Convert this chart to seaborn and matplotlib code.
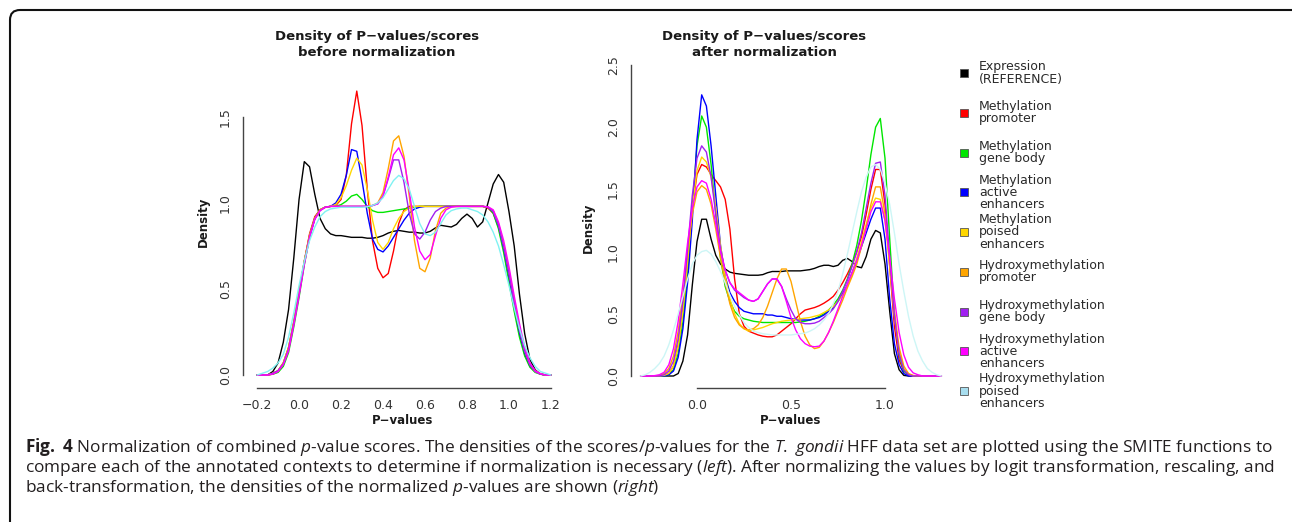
import matplotlib
matplotlib.use("Agg")
import matplotlib.pyplot as plt
from matplotlib.patches import FancyBboxPatch, Rectangle
import pandas as pd
import seaborn as sns

# ---- data ----
x_before = [-0.2, -0.175, -0.15, -0.125, -0.1, -0.075, -0.05, -0.025,
            0.0, 0.025, 0.05, 0.075, 0.1, 0.125, 0.15, 0.175,
            0.2, 0.225, 0.25, 0.275, 0.3, 0.325, 0.35, 0.375,
            0.4, 0.425, 0.45, 0.475, 0.5, 0.525, 0.55, 0.575,
            0.6, 0.625, 0.65, 0.675, 0.7, 0.725, 0.75, 0.775,
            0.8, 0.825, 0.85, 0.875, 0.9, 0.925, 0.95, 0.975,
            1.0, 1.025, 1.05, 1.075, 1.1, 1.125, 1.15, 1.175, 1.2]

x_after = [-0.3, -0.275, -0.25, -0.225, -0.2, -0.175, -0.15, -0.125,
           -0.1, -0.075, -0.05, -0.025, 0.0, 0.025, 0.05, 0.075,
           0.1, 0.125, 0.15, 0.175, 0.2, 0.225, 0.25, 0.275,
           0.3, 0.325, 0.35, 0.375, 0.4, 0.425, 0.45, 0.475,
           0.5, 0.525, 0.55, 0.575, 0.6, 0.625, 0.65, 0.675,
           0.7, 0.725, 0.75, 0.775, 0.8, 0.825, 0.85, 0.875,
           0.9, 0.925, 0.95, 0.975, 1.0, 1.025, 1.05, 1.075,
           1.1, 1.125, 1.15, 1.175, 1.2, 1.225, 1.25, 1.275,
           1.3]

before_expr = [0, 0, 0, 0.02, 0.07, 0.19, 0.38, 0.68,
               1.02, 1.24, 1.21, 1.05, 0.91, 0.85, 0.82, 0.81,
               0.81, 0.805, 0.8, 0.8, 0.8, 0.795, 0.795, 0.8,
               0.81, 0.825, 0.835, 0.84, 0.835, 0.83, 0.83, 0.825,
               0.825, 0.835, 0.855, 0.87, 0.865, 0.86, 0.875, 0.91,
               0.935, 0.91, 0.86, 0.89, 1.0, 1.11, 1.165, 1.12,
               0.95, 0.75, 0.47, 0.24, 0.09, 0.03, 0.005, 0,
               0]
before_meth_prom = [0, 0, 0, 0.005, 0.02, 0.06, 0.15, 0.3,
                    0.47, 0.66, 0.82, 0.92, 0.96, 0.975, 0.98, 0.985,
                    1.02, 1.16, 1.46, 1.65, 1.45, 1.08, 0.78, 0.62,
                    0.565, 0.59, 0.72, 0.88, 0.96, 0.98, 0.98, 0.98,
                    0.98, 0.98, 0.98, 0.98, 0.98, 0.98, 0.98, 0.98,
                    0.98, 0.98, 0.98, 0.98, 0.97, 0.94, 0.86, 0.73,
                    0.57, 0.4, 0.24, 0.12, 0.05, 0.02, 0.005, 0,
                    0]
before_meth_body = [0, 0, 0, 0.005, 0.015, 0.05, 0.13, 0.28,
                    0.45, 0.64, 0.8, 0.91, 0.96, 0.975, 0.98, 0.98,
                    0.99, 1.01, 1.04, 1.05, 1.02, 0.98, 0.955, 0.945,
                    0.945, 0.95, 0.955, 0.96, 0.965, 0.97, 0.975, 0.98,
                    0.98, 0.98, 0.98, 0.98, 0.98, 0.98, 0.98, 0.98,
                    0.98, 0.98, 0.98, 0.98, 0.975, 0.94, 0.85, 0.71,
                    0.54, 0.37, 0.22, 0.11, 0.045, 0.015, 0.005, 0,
                    0]
before_meth_active = [0, 0, 0, 0.01, 0.025, 0.07, 0.16, 0.31,
                      0.48, 0.66, 0.81, 0.91, 0.96, 0.975, 0.98, 1.0,
                      1.05, 1.16, 1.31, 1.3, 1.13, 0.94, 0.79, 0.73,
                      0.715, 0.75, 0.8, 0.85, 0.9, 0.94, 0.965, 0.975,
                      0.98, 0.98, 0.98, 0.98, 0.98, 0.98, 0.98, 0.98,
                      0.98, 0.98, 0.98, 0.98, 0.975, 0.95, 0.87, 0.74,
                      0.58, 0.41, 0.25, 0.13, 0.055, 0.02, 0.005, 0,
                      0]
before_meth_poised = [0, 0, 0, 0.01, 0.025, 0.07, 0.16, 0.31,
                      0.48, 0.66, 0.81, 0.91, 0.96, 0.975, 0.98, 0.99,
                      1.03, 1.1, 1.19, 1.26, 1.22, 1.08, 0.9, 0.77,
                      0.73, 0.77, 0.85, 0.91, 0.95, 0.97, 0.98, 0.98,
                      0.98, 0.98, 0.98, 0.98, 0.98, 0.98, 0.98, 0.98,
                      0.98, 0.98, 0.98, 0.98, 0.975, 0.955, 0.88, 0.76,
                      0.6, 0.43, 0.27, 0.14, 0.06, 0.02, 0.005, 0,
                      0]
before_hmeth_prom = [0, 0, 0, 0.01, 0.025, 0.07, 0.16, 0.31,
                     0.48, 0.66, 0.81, 0.91, 0.96, 0.975, 0.98, 0.98,
                     0.98, 0.98, 0.98, 0.98, 0.98, 0.98, 0.985, 1.0,
                     1.06, 1.2, 1.36, 1.39, 1.27, 1.04, 0.78, 0.62,
                     0.6, 0.68, 0.84, 0.94, 0.97, 0.98, 0.98, 0.98,
                     0.98, 0.98, 0.98, 0.98, 0.975, 0.955, 0.88, 0.76,
                     0.61, 0.44, 0.28, 0.15, 0.065, 0.025, 0.008, 0,
                     0]
before_hmeth_body = [0, 0, 0, 0.01, 0.025, 0.065, 0.15, 0.3,
                     0.47, 0.65, 0.8, 0.905, 0.955, 0.975, 0.98, 0.98,
                     0.98, 0.98, 0.98, 0.98, 0.98, 0.98, 0.985, 0.995,
                     1.04, 1.14, 1.25, 1.25, 1.12, 0.94, 0.82, 0.79,
                     0.83, 0.9, 0.95, 0.97, 0.98, 0.98, 0.98, 0.98,
                     0.98, 0.98, 0.98, 0.98, 0.975, 0.95, 0.87, 0.745,
                     0.59, 0.42, 0.26, 0.14, 0.06, 0.02, 0.005, 0,
                     0]
before_hmeth_active = [0, 0, 0, 0.005, 0.02, 0.06, 0.14, 0.29,
                       0.46, 0.64, 0.8, 0.905, 0.955, 0.975, 0.98, 0.98,
                       0.98, 0.98, 0.98, 0.98, 0.98, 0.98, 0.985, 0.995,
                       1.04, 1.15, 1.28, 1.32, 1.25, 1.07, 0.86, 0.72,
                       0.67, 0.7, 0.81, 0.91, 0.96, 0.975, 0.98, 0.98,
                       0.98, 0.98, 0.98, 0.98, 0.978, 0.96, 0.89, 0.78,
                       0.63, 0.46, 0.3, 0.16, 0.07, 0.025, 0.008, 0,
                       0]
before_hmeth_poised = [0.0, 0.01, 0.02, 0.04, 0.07, 0.12, 0.22, 0.36,
                       0.52, 0.66, 0.78, 0.86, 0.92, 0.95, 0.965, 0.97,
                       0.975, 0.975, 0.975, 0.975, 0.975, 0.978, 0.985, 1.0,
                       1.03, 1.08, 1.13, 1.16, 1.14, 1.08, 0.98, 0.88,
                       0.82, 0.81, 0.83, 0.88, 0.93, 0.955, 0.965, 0.97,
                       0.97, 0.96, 0.95, 0.93, 0.89, 0.83, 0.75, 0.64,
                       0.52, 0.39, 0.27, 0.17, 0.1, 0.05, 0.02, 0.01,
                       0.0]

after_expr = [0, 0, 0, 0, 0, 0, 0, 0,
              0.02, 0.12, 0.33, 0.73, 1.08, 1.26, 1.26, 1.1,
              0.97, 0.9, 0.86, 0.835, 0.825, 0.82, 0.815, 0.81,
              0.81, 0.81, 0.815, 0.83, 0.84, 0.84, 0.84, 0.845,
              0.845, 0.845, 0.845, 0.85, 0.855, 0.865, 0.88, 0.89,
              0.89, 0.88, 0.89, 0.93, 0.945, 0.92, 0.88, 0.87,
              0.96, 1.1, 1.17, 1.15, 0.9, 0.52, 0.18, 0.05,
              0.005, 0, 0, 0, 0, 0, 0, 0,
              0]
after_meth_prom = [0, 0, 0, 0, 0, 0.005, 0.02, 0.08,
                   0.25, 0.53, 0.93, 1.35, 1.62, 1.7, 1.68, 1.62,
                   1.57, 1.52, 1.42, 1.18, 0.78, 0.5, 0.4, 0.36,
                   0.345, 0.33, 0.32, 0.315, 0.315, 0.33, 0.36, 0.39,
                   0.42, 0.46, 0.5, 0.53, 0.54, 0.55, 0.565, 0.585,
                   0.61, 0.64, 0.69, 0.75, 0.82, 0.9, 1.0, 1.12,
                   1.3, 1.5, 1.66, 1.66, 1.38, 0.88, 0.4, 0.13,
                   0.04, 0.01, 0, 0, 0, 0, 0, 0,
                   0]
after_meth_body = [0, 0, 0, 0, 0, 0, 0.01, 0.05,
                   0.18, 0.43, 0.82, 1.35, 1.85, 2.09, 2.0, 1.7,
                   1.3, 0.95, 0.72, 0.6, 0.52, 0.48, 0.46, 0.45,
                   0.44, 0.435, 0.43, 0.43, 0.43, 0.43, 0.43, 0.43,
                   0.43, 0.43, 0.435, 0.44, 0.45, 0.46, 0.48, 0.5,
                   0.53, 0.57, 0.62, 0.69, 0.78, 0.9, 1.05, 1.25,
                   1.5, 1.78, 2.0, 2.07, 1.75, 1.1, 0.5, 0.17,
                   0.04, 0.01, 0, 0, 0, 0, 0, 0,
                   0]
after_meth_active = [0, 0, 0, 0, 0, 0, 0.01, 0.04,
                     0.15, 0.38, 0.75, 1.25, 1.9, 2.26, 2.17, 1.85,
                     1.45, 1.05, 0.8, 0.67, 0.6, 0.55, 0.52, 0.51,
                     0.5, 0.5, 0.5, 0.49, 0.49, 0.48, 0.48, 0.47,
                     0.46, 0.455, 0.45, 0.45, 0.45, 0.46, 0.47, 0.49,
                     0.52, 0.55, 0.6, 0.66, 0.73, 0.83, 0.93, 1.04,
                     1.15, 1.26, 1.35, 1.35, 1.1, 0.62, 0.26, 0.09,
                     0.02, 0, 0, 0, 0, 0, 0, 0,
                     0]
after_meth_poised = [0, 0, 0, 0, 0, 0.005, 0.02, 0.08,
                     0.24, 0.52, 0.92, 1.35, 1.65, 1.76, 1.72, 1.6,
                     1.35, 1.05, 0.8, 0.62, 0.5, 0.42, 0.38, 0.36,
                     0.37, 0.38, 0.39, 0.405, 0.42, 0.43, 0.44, 0.445,
                     0.45, 0.455, 0.46, 0.465, 0.47, 0.48, 0.49, 0.51,
                     0.53, 0.56, 0.6, 0.65, 0.72, 0.82, 0.95, 1.08,
                     1.22, 1.35, 1.43, 1.42, 1.25, 0.88, 0.48, 0.2,
                     0.06, 0.015, 0, 0, 0, 0, 0, 0,
                     0]
after_hmeth_prom = [0, 0, 0, 0, 0.005, 0.02, 0.06, 0.16,
                    0.36, 0.65, 1.0, 1.3, 1.48, 1.53, 1.5, 1.38,
                    1.18, 0.95, 0.75, 0.58, 0.47, 0.41, 0.38, 0.37,
                    0.38, 0.41, 0.47, 0.56, 0.67, 0.78, 0.86, 0.86,
                    0.76, 0.6, 0.44, 0.32, 0.25, 0.22, 0.23, 0.28,
                    0.35, 0.43, 0.52, 0.61, 0.71, 0.8, 0.9, 1.04,
                    1.2, 1.38, 1.52, 1.52, 1.3, 0.92, 0.52, 0.23,
                    0.08, 0.02, 0.005, 0, 0, 0, 0, 0,
                    0]
after_hmeth_body = [0, 0, 0, 0, 0, 0.01, 0.04, 0.12,
                    0.3, 0.6, 1.02, 1.45, 1.75, 1.85, 1.8, 1.6,
                    1.3, 1.02, 0.85, 0.75, 0.69, 0.66, 0.63, 0.61,
                    0.6, 0.62, 0.68, 0.74, 0.78, 0.78, 0.72, 0.62,
                    0.53, 0.46, 0.43, 0.42, 0.42, 0.425, 0.44, 0.47,
                    0.5, 0.54, 0.6, 0.68, 0.77, 0.88, 1.0, 1.15,
                    1.35, 1.55, 1.71, 1.72, 1.45, 0.95, 0.48, 0.18,
                    0.05, 0.01, 0, 0, 0, 0, 0, 0,
                    0]
after_hmeth_active = [0, 0, 0, 0.003, 0.01, 0.03, 0.09, 0.22,
                      0.44, 0.74, 1.07, 1.35, 1.52, 1.57, 1.55, 1.42,
                      1.22, 1.0, 0.85, 0.75, 0.7, 0.67, 0.64, 0.61,
                      0.6, 0.62, 0.68, 0.74, 0.78, 0.78, 0.72, 0.6,
                      0.47, 0.37, 0.3, 0.26, 0.24, 0.235, 0.24, 0.28,
                      0.35, 0.44, 0.54, 0.64, 0.74, 0.83, 0.93, 1.05,
                      1.18, 1.32, 1.4, 1.4, 1.25, 0.95, 0.62, 0.35,
                      0.17, 0.07, 0.025, 0.01, 0, 0, 0, 0,
                      0]
after_hmeth_poised = [0.0, 0.01, 0.03, 0.06, 0.1, 0.16, 0.25, 0.37,
                      0.5, 0.64, 0.78, 0.9, 0.97, 1.0, 1.01, 0.98,
                      0.92, 0.84, 0.75, 0.65, 0.56, 0.49, 0.43, 0.39,
                      0.36, 0.35, 0.34, 0.335, 0.33, 0.33, 0.33, 0.33,
                      0.33, 0.335, 0.34, 0.345, 0.36, 0.38, 0.41, 0.45,
                      0.5, 0.58, 0.68, 0.82, 0.98, 1.15, 1.32, 1.48,
                      1.6, 1.68, 1.7, 1.66, 1.55, 1.38, 1.15, 0.9,
                      0.68, 0.48, 0.32, 0.2, 0.12, 0.06, 0.03, 0.01,
                      0.0]

contexts = ["expr", "meth_prom", "meth_body", "meth_active", "meth_poised",
            "hmeth_prom", "hmeth_body", "hmeth_active", "hmeth_poised"]
legend_labels = ["Expression\n(REFERENCE)", "Methylation\npromoter",
                 "Methylation\ngene body", "Methylation\nactive\nenhancers",
                 "Methylation\npoised\nenhancers", "Hydroxymethylation\npromoter",
                 "Hydroxymethylation\ngene body", "Hydroxymethylation\nactive\nenhancers",
                 "Hydroxymethylation\npoised\nenhancers"]
before_series = [before_expr, before_meth_prom, before_meth_body, before_meth_active,
                 before_meth_poised, before_hmeth_prom, before_hmeth_body,
                 before_hmeth_active, before_hmeth_poised]
after_series = [after_expr, after_meth_prom, after_meth_body, after_meth_active,
                after_meth_poised, after_hmeth_prom, after_hmeth_body,
                after_hmeth_active, after_hmeth_poised]

colors_before = ["#000000", "#FF0000", "#00E600", "#0000FF", "#FFD700",
                 "#FFA500", "#A020F0", "#FF00FF", "#80F2F2"]
colors_after = colors_before[:8] + ["#CDF6F6"]
legend_colors = colors_before[:8] + ["#A8DEEF"]


def long_df(xs, series):
    parts = [pd.DataFrame({"p": xs, "density": ys, "context": c})
             for c, ys in zip(contexts, series)]
    return pd.concat(parts, ignore_index=True)


df_before = long_df(x_before, before_series)
df_after = long_df(x_after, after_series)

# ---- figure ----
sns.set_style("white")
plt.rcParams["font.family"] = ["DejaVu Sans"]
plt.rcParams["mathtext.fontset"] = "custom"
plt.rcParams["mathtext.rm"] = "Open Sans"
plt.rcParams["mathtext.it"] = "Open Sans:italic"
plt.rcParams["mathtext.bf"] = "Open Sans:bold"
plt.rcParams["lines.solid_joinstyle"] = "round"

W, H = 1292, 522
fig = plt.figure(figsize=(W / 100, H / 100), dpi=100)


def axes_px(left, top, right, bottom):
    return fig.add_axes([left / W, 1 - bottom / H, (right - left) / W, (bottom - top) / H])


ax1 = axes_px(243, 78, 565, 388)
ax2 = axes_px(631, 60, 951, 388)

sns.lineplot(data=df_before, x="p", y="density", hue="context", hue_order=contexts,
             palette=dict(zip(contexts, colors_before)), estimator=None, sort=False,
             legend=False, linewidth=1.0, ax=ax1)
sns.lineplot(data=df_after, x="p", y="density", hue="context", hue_order=contexts,
             palette=dict(zip(contexts, colors_after)), estimator=None, sort=False,
             legend=False, linewidth=1.0, ax=ax2)

ax1.set_xlim(-0.267, 1.267)
ax1.set_ylim(-0.0756, 1.726)
ax1.set_xticks([-0.2, 0.0, 0.2, 0.4, 0.6, 0.8, 1.0, 1.2])
ax1.set_xticklabels(["\u22120.2", "0.0", "0.2", "0.4", "0.6", "0.8", "1.0", "1.2"])
ax1.set_yticks([0.0, 0.5, 1.0, 1.5])
ax1.set_yticklabels(["0.0", "0.5", "1.0", "1.5"], rotation=90, va="center")
ax1.spines["left"].set_bounds(0.0, 1.5)
ax1.spines["bottom"].set_bounds(-0.2, 1.2)

ax2.set_xlim(-0.351, 1.351)
ax2.set_ylim(-0.0965, 2.54)
ax2.set_xticks([0.0, 0.5, 1.0])
ax2.set_xticklabels(["0.0", "0.5", "1.0"])
ax2.set_yticks([0.0, 0.5, 1.0, 1.5, 2.0, 2.5])
ax2.set_yticklabels(["0.0", "0.5", "1.0", "1.5", "2.0", "2.5"], rotation=90, va="center")
ax2.spines["left"].set_bounds(0.0, 2.5)
ax2.spines["bottom"].set_bounds(0.0, 1.0)

for ax in (ax1, ax2):
    ax.set_facecolor("none")
    ax.set_xlabel("")
    ax.set_ylabel("")
    ax.spines["top"].set_visible(False)
    ax.spines["right"].set_visible(False)
    for s in ("left", "bottom"):
        ax.spines[s].set_color("#444444")
        ax.spines[s].set_linewidth(1.0)
    ax.tick_params(direction="out", length=5, width=1.0, color="#444444",
                   labelcolor="#333333", labelsize=9, pad=3)

title_kw = dict(ha="center", va="center", fontsize=9.5, fontweight="bold",
                color="#1a1a1a", linespacing=1.3)
fig.text(377 / W, 1 - 44.5 / H, "Density of P\u2212values/scores\nbefore normalization", **title_kw)
fig.text(764.5 / W, 1 - 44.5 / H, "Density of P\u2212values/scores\nafter normalization", **title_kw)

lab_kw = dict(ha="center", va="center", fontsize=8.5, fontweight="bold", color="#1a1a1a")
fig.text(203 / W, 1 - 222 / H, "Density", rotation=90, **lab_kw)
fig.text(588 / W, 1 - 228 / H, "Density", rotation=90, **lab_kw)
fig.text(403 / W, 1 - 420 / H, "P\u2212values", **lab_kw)
fig.text(791 / W, 1 - 420 / H, "P\u2212values", **lab_kw)

# legend drawn R-style: fixed spacing between keys
for i, (lab, col) in enumerate(zip(legend_labels, legend_colors)):
    yc = 73 + i * 39.75
    fig.add_artist(Rectangle(((963.5 - 4) / W, 1 - (yc + 4) / H), 8 / W, 8 / H,
                             transform=fig.transFigure, facecolor=col,
                             edgecolor="#555555", linewidth=0.6))
    fig.text(979 / W, 1 - yc / H, lab, ha="left", va="center", fontsize=9,
             color="#2a2a2a", linespacing=0.92)

# rounded frame around the figure (bottom and right run off the canvas)
fig.add_artist(FancyBboxPatch((0.1, -0.2), 13.0, 5.32, boxstyle="round,pad=0,rounding_size=0.1",
                              transform=fig.dpi_scale_trans, fill=False,
                              edgecolor="#111111", linewidth=1.5, clip_on=False))

caption = [
    r"$\bf{Fig.\ 4}$ Normalization of combined $\it{p}$-value scores. The densities of the scores/$\it{p}$-values for the $\it{T.\ gondii}$ HFF data set are plotted using the SMITE functions to",
    r"compare each of the annotated contexts to determine if normalization is necessary ($\it{left}$). After normalizing the values by logit transformation, rescaling, and",
    r"back-transformation, the densities of the normalized $\it{p}$-values are shown ($\it{right}$)",
]
cap_texts = []
for k, line in enumerate(caption):
    cap_texts.append(fig.text(25 / W, 1 - (447 + 20.5 * k) / H, line, ha="left", va="center",
                              fontsize=11, family="Open Sans", color="#231F20"))

fig.canvas.draw()
renderer = fig.canvas.get_renderer()
width0 = cap_texts[0].get_window_extent(renderer).width
scale = 1242 / width0
for t in cap_texts:
    t.set_fontsize(11 * scale)

fig.savefig("out.png", dpi=100)
